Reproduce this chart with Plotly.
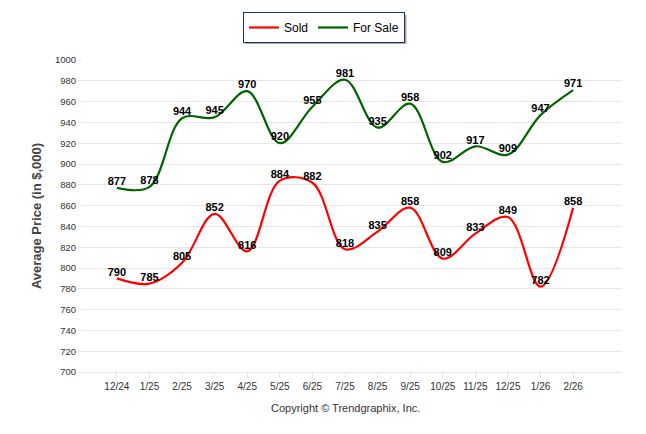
import plotly.graph_objects as go

months = ["12/24", "1/25", "2/25", "3/25", "4/25", "5/25", "6/25", "7/25",
          "8/25", "9/25", "10/25", "11/25", "12/25", "1/26", "2/26"]
sold = [790, 785, 805, 852, 816, 884, 882, 818, 835, 858, 809, 833, 849, 782, 858]
for_sale = [877, 878, 944, 945, 970, 920, 955, 981, 935, 958, 902, 917, 909, 947, 971]
y_ticks = list(range(700, 1001, 20))

# page body has an 8px margin: size the figure so it ends at the window edge
OFF = 8
W, H = 646 - OFF, 434 - OFF
PL, PR, PT, PB = 83, 622, 60, 372  # plot area in page pixels
L, R, T, B = PL - OFF, 646 - PR, PT - OFF, 434 - PB
PW, PH = PR - PL, PB - PT


def px(x):
    return (x - PL) / PW


def py(y):
    return (PB - y) / PH


fig = go.Figure()
for name, vals, color in [("Sold", sold, "#ff0000"), ("For Sale", for_sale, "#006400")]:
    fig.add_trace(go.Scatter(
        x=months, y=vals, name=name, mode="lines+text",
        line=dict(color=color, width=2.2, shape="spline", smoothing=1.0),
        text=[str(v) for v in vals], textposition="top center",
        textfont=dict(family="Liberation Sans, Arial", size=11, color="#000000", weight="bold"),
        cliponaxis=False,
    ))

fig.update_layout(
    width=W, height=H,
    margin=dict(l=L, r=R, t=T, b=B, autoexpand=False),
    paper_bgcolor="white", plot_bgcolor="white",
    showlegend=True,
    legend=dict(
        orientation="h", xref="container", yref="container",
        x=(324 - OFF) / W, xanchor="center", y=1 - (12 - OFF) / H, yanchor="top",
        bordercolor="#1c3766", borderwidth=1, bgcolor="white",
        font=dict(family="Liberation Sans, Arial", size=12, color="#000000"),
        itemwidth=30,
    ),
    font=dict(family="Liberation Sans, Arial", color="#333333"),
    xaxis=dict(
        type="category", range=[-1.04, 15.5],
        tickfont=dict(size=10, color="#333333"),
        showgrid=False, showline=True, linecolor="#e6e6e6", linewidth=1,
        ticks="outside", ticklen=5, tickcolor="#e6e6e6",
        zeroline=False, automargin=False,
    ),
    yaxis=dict(
        range=[700, 1000], tickvals=y_ticks,
        tickfont=dict(size=9.5, color="#333333"),
        showgrid=True, gridcolor="#e6e6e6", gridwidth=1,
        ticks="outside", ticklen=4, tickcolor="#e6e6e6",
        zeroline=False, showline=False, automargin=False,
        title=dict(text="Average Price (in $,000)",
                   font=dict(size=13, color="#444444", weight="bold"), standoff=10),
    ),
    shapes=[dict(
        type="rect", xref="paper", yref="paper", layer="above",
        x0=px(245), x1=px(406.5), y0=py(44), y1=py(15),
        fillcolor="#a8a8a8", line=dict(width=0),
    )],
    annotations=[dict(
        text="Copyright © Trendgraphix, Inc.", xref="paper", yref="paper",
        x=px(345), y=py(408),
        xanchor="center", yanchor="middle", showarrow=False,
        font=dict(size=11, color="#333333"),
    )],
)

fig.write_html("out.html")
